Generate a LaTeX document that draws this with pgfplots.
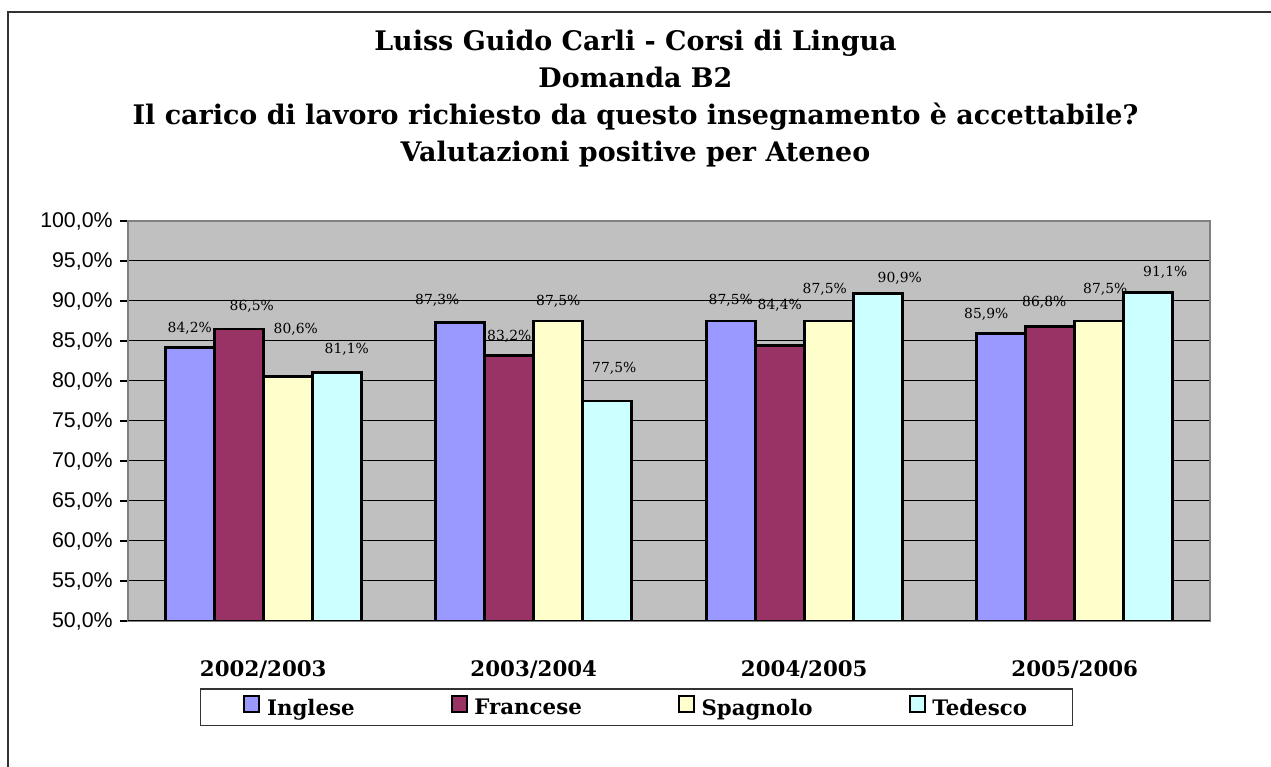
\documentclass[border=0pt]{standalone}
\usepackage{pgfplots}
\pgfplotsset{compat=1.18}
\usepackage{pgfplotstable}
\usepackage{fontspec}
\setmainfont{DejaVu Serif}
\newfontfamily\arialfont{Liberation Sans}
\definecolor{cIng}{HTML}{9999FF}
\definecolor{cFra}{HTML}{993366}
\definecolor{cSpa}{HTML}{FFFFCC}
\definecolor{cTed}{HTML}{CCFFFF}
\definecolor{plotbg}{HTML}{C0C0C0}
\definecolor{framegray}{HTML}{808080}

% x: category, y: value, lx: label x-offset (px), ly: label centre above bar top (px)
\pgfplotstableread{
x y lx ly
0 84.2 0 19
1 87.3 -23 22
2 87.5 0 21
3 85.9 -15 20
}\ingl
\pgfplotstableread{
x y lx ly
0 86.5 13 23
1 83.2 0 19
2 84.4 0 41
3 86.8 -6 24
}\fran
\pgfplotstableread{
x y lx ly
0 80.6 8 47
1 87.5 0 20
2 87.5 -4 32
3 87.5 6 32
}\spag
\pgfplotstableread{
x y lx ly
0 81.1 10 23
1 77.5 7 33
2 90.9 22 16
3 91.1 17 20
}\ted

\pgfplotsset{
  bars/.style 2 args={fill=#1, draw=black, line width=2pt, forget plot, bar shift=#2*36.75pt},
  labs/.style={
    sharp plot, draw=none, mark=none, forget plot, bar shift=0pt,
    point meta=explicit,
    nodes near coords={\pgfmathprintnumber[fixed,fixed zerofill,precision=1,use comma,assume math mode=true]{\pgfplotspointmeta}\%},
    every node near coord/.append style={font=\fontsize{10.4}{12}\selectfont, black, anchor=center, inner sep=0pt},
  },
}
% label position: category + bar offset (px, 49 px per bar, 270.5 px per category)
\newcommand\labplot[2]{%
  \addplot[labs] table[x expr={\thisrow{x}+((#2)*49+\thisrow{lx})/270.5},
                       y expr={\thisrow{y}+\thisrow{ly}/8}, meta=y] {#1};}

\begin{document}
\begin{tikzpicture}
% outer frame (top and left edges visible)
\draw[line width=1.5pt, black!80] (6pt,0pt) -- (6pt,566.25pt) -- (953.25pt,566.25pt);
% title
\node[anchor=north, align=center, font=\fontsize{20.2}{27.75}\selectfont\bfseries]
  at (476.6pt,556pt)
  {Luiss Guido Carli - Corsi di Lingua\\Domanda B2\\Il carico di lavoro richiesto da questo insegnamento è accettabile?\\Valutazioni positive per Ateneo};
\begin{axis}[
  at={(96pt,109.5pt)}, anchor=south west,
  scale only axis, width=811.5pt, height=300pt,
  ybar=0pt, bar width=36.75pt,
  xmin=-0.5, xmax=3.5, ymin=50, ymax=100,
  xtick={0,1,2,3},
  xticklabels={2002/2003,2003/2004,2004/2005,2005/2006},
  xticklabel style={font=\fontsize{16}{19}\selectfont\bfseries, anchor=base, yshift=-36pt},
  x tick style={draw=none},
  ytick={50,55,...,100}, ytick pos=left,
  yticklabel={\pgfmathprintnumber[fixed,fixed zerofill,precision=1,use comma,assume math mode=true]{\tick}\%},
  yticklabel style={font=\fontsize{16}{19}\selectfont\arialfont, xshift=-2pt},
  y tick style={black, line width=0.8pt},
  tick align=outside, major tick length=6pt,
  ymajorgrids, grid style={black, line width=0.75pt},
  axis background/.style={fill=plotbg},
  axis line style={draw=framegray, line width=1.5pt},
  legend columns=4,
  legend style={at={(0.4700,-0.216)}, anchor=center, draw=black!80, line width=0.8pt,
     font=\fontsize{16}{19}\selectfont\bfseries, inner xsep=32pt, inner ysep=4.5pt,
     /tikz/every even column/.append style={column sep=70pt},
     /tikz/every odd column/.append style={column sep=3pt}},
]
\addplot[bars={cIng}{-1.5}] table[x=x,y=y] {\ingl};
\addplot[bars={cFra}{-0.5}] table[x=x,y=y] {\fran};
\addplot[bars={cSpa}{0.5}] table[x=x,y=y] {\spag};
\addplot[bars={cTed}{1.5}] table[x=x,y=y] {\ted};
\draw[black, line width=1.2pt] (rel axis cs:0,0) -- (rel axis cs:1,0);
\labplot{\ingl}{-1.5}
\labplot{\fran}{-0.5}
\labplot{\spag}{0.5}
\labplot{\ted}{1.5}
\addlegendimage{legend image code/.code={\draw[fill=cIng, draw=black, line width=1.5pt] (0pt,-3pt) rectangle (11.25pt,9pt);}}
\addlegendentry{Inglese}
\addlegendimage{legend image code/.code={\draw[fill=cFra, draw=black, line width=1.5pt] (0pt,-3pt) rectangle (11.25pt,9pt);}}
\addlegendentry{Francese}
\addlegendimage{legend image code/.code={\draw[fill=cSpa, draw=black, line width=1.5pt] (0pt,-3pt) rectangle (11.25pt,9pt);}}
\addlegendentry{Spagnolo}
\addlegendimage{legend image code/.code={\draw[fill=cTed, draw=black, line width=1.5pt] (0pt,-3pt) rectangle (11.25pt,9pt);}}
\addlegendentry{Tedesco}
\end{axis}
\pgfresetboundingbox
\path (0pt,0pt) rectangle (953.25pt,575.25pt);
\end{tikzpicture}
\end{document}
